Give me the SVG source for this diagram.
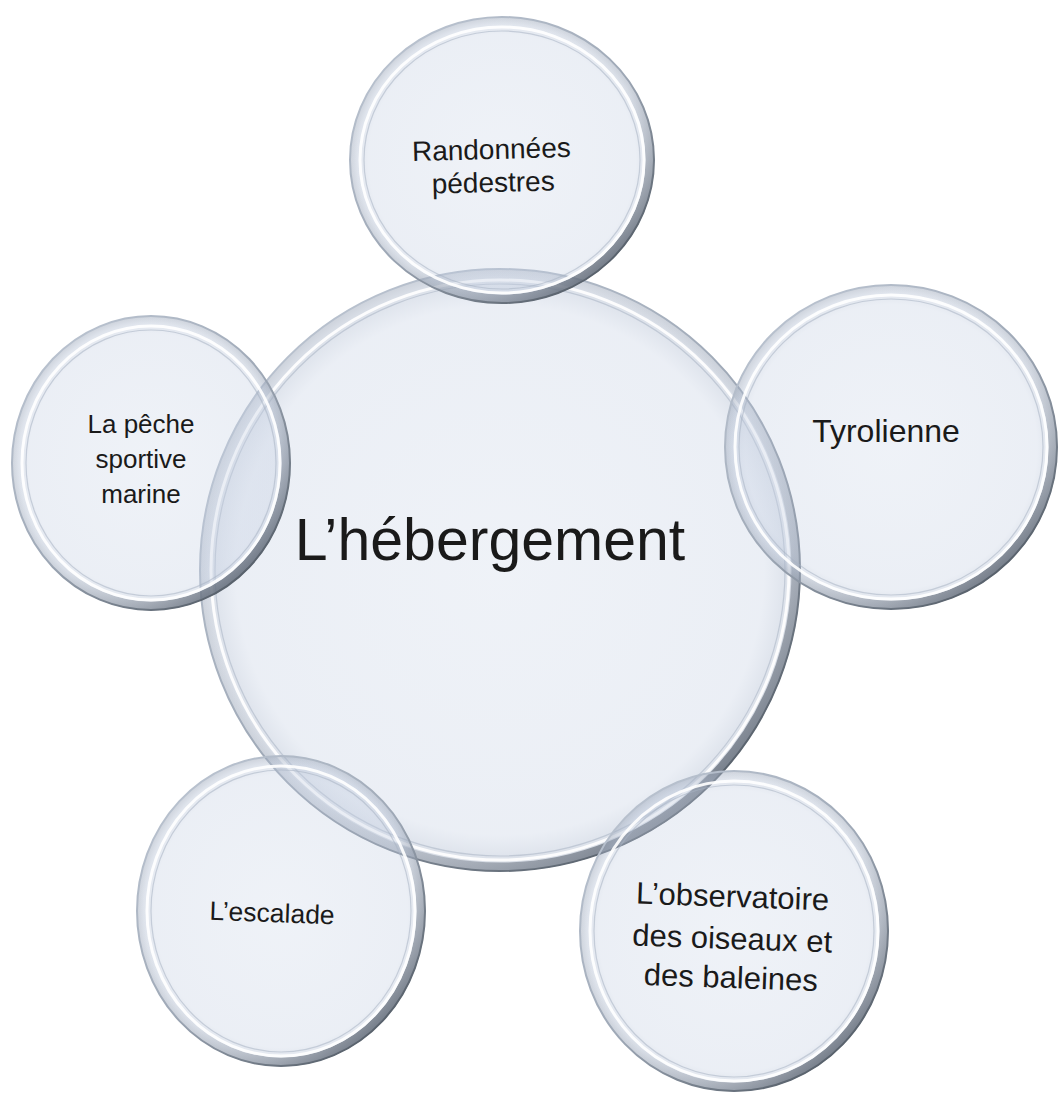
<svg xmlns="http://www.w3.org/2000/svg" width="1058" height="1096" viewBox="0 0 1058 1096">
  <defs>
    <radialGradient id="bubbleFill" cx="0.5" cy="0.5" r="0.5">
      <stop offset="0" stop-color="#c9d4e6" stop-opacity="0.3"/>
      <stop offset="0.88" stop-color="#c4cfe2" stop-opacity="0.34"/>
      <stop offset="0.95" stop-color="#b3bfd3" stop-opacity="0.42"/>
      <stop offset="1" stop-color="#9aa5b7" stop-opacity="0.5"/>
    </radialGradient>
    <linearGradient id="rim" x1="0.15" y1="0.1" x2="0.85" y2="0.95">
      <stop offset="0" stop-color="#b9c2cf"/>
      <stop offset="0.5" stop-color="#9ea8b6"/>
      <stop offset="1" stop-color="#4f5862"/>
    </linearGradient>
    <linearGradient id="shade" x1="0.2" y1="0.1" x2="0.9" y2="0.9">
      <stop offset="0" stop-color="#ffffff" stop-opacity="0"/>
      <stop offset="0.55" stop-color="#9aa3b0" stop-opacity="0.1"/>
      <stop offset="1" stop-color="#4e5764" stop-opacity="0.8"/>
    </linearGradient>
  </defs>
  <style>
    .fill { fill: url(#bubbleFill); }
    .shade { fill: none; stroke: url(#shade); stroke-width: 9; }
    .rim { fill: none; stroke: url(#rim); stroke-width: 2; }
    .hl { fill: none; stroke: #ffffff; stroke-opacity: 0.9; stroke-width: 3; }
    .inner { fill: none; stroke: #a7b2c2; stroke-opacity: 0.55; stroke-width: 1.2; }
    .lbl { font-family: "Liberation Sans", Arial, sans-serif; fill: #1a1a1a; text-anchor: middle; }
  </style>
  <rect width="1058" height="1096" fill="#ffffff"/>

  <g id="connectors"></g>

  <g id="node-center">
    <ellipse class="fill" cx="500" cy="570" rx="300" ry="301"/>
    <ellipse class="shade" cx="500" cy="570" rx="296" ry="297"/>
    <ellipse class="rim" cx="500" cy="570" rx="300" ry="301"/>
    <ellipse class="hl" cx="500" cy="570" rx="289" ry="290"/>
    <ellipse class="inner" cx="500" cy="570" rx="285" ry="286"/>
    <text class="lbl" x="490" y="560" font-size="59">L’hébergement</text>
  </g>

  <g id="node-randonnees">
    <ellipse class="fill" cx="502" cy="160" rx="152" ry="143"/>
    <ellipse class="shade" cx="502" cy="160" rx="148" ry="139"/>
    <ellipse class="rim" cx="502" cy="160" rx="152" ry="143"/>
    <ellipse class="hl" cx="502" cy="160" rx="142" ry="133"/>
    <ellipse class="inner" cx="502" cy="160" rx="138" ry="129"/>
    <g transform="rotate(-1.5 492 175)">
      <text class="lbl" x="492" y="159" font-size="28">Randonnées</text>
      <text class="lbl" x="493" y="192" font-size="28">pédestres</text>
    </g>
  </g>

  <g id="node-peche">
    <ellipse class="fill" cx="151" cy="463" rx="139" ry="147"/>
    <ellipse class="shade" cx="151" cy="463" rx="135" ry="143"/>
    <ellipse class="rim" cx="151" cy="463" rx="139" ry="147"/>
    <ellipse class="hl" cx="151" cy="463" rx="129" ry="137"/>
    <ellipse class="inner" cx="151" cy="463" rx="125" ry="133"/>
    <text class="lbl" x="141" y="433" font-size="26">La pêche</text>
    <text class="lbl" x="141" y="468" font-size="26">sportive</text>
    <text class="lbl" x="141" y="503" font-size="26">marine</text>
  </g>

  <g id="node-tyrolienne">
    <ellipse class="fill" cx="891" cy="447" rx="166" ry="162"/>
    <ellipse class="shade" cx="891" cy="447" rx="162" ry="158"/>
    <ellipse class="rim" cx="891" cy="447" rx="166" ry="162"/>
    <ellipse class="hl" cx="891" cy="447" rx="156" ry="152"/>
    <ellipse class="inner" cx="891" cy="447" rx="152" ry="148"/>
    <text class="lbl" x="886" y="442" font-size="32">Tyrolienne</text>
  </g>

  <g id="node-escalade">
    <ellipse class="fill" cx="281" cy="911" rx="144" ry="155"/>
    <ellipse class="shade" cx="281" cy="911" rx="140" ry="151"/>
    <ellipse class="rim" cx="281" cy="911" rx="144" ry="155"/>
    <ellipse class="hl" cx="281" cy="911" rx="134" ry="145"/>
    <ellipse class="inner" cx="281" cy="911" rx="130" ry="141"/>
    <text class="lbl" x="272" y="922" font-size="26.5" transform="rotate(2 272 915)">L’escalade</text>
  </g>

  <g id="node-observatoire">
    <ellipse class="fill" cx="734" cy="931" rx="154" ry="160"/>
    <ellipse class="shade" cx="734" cy="931" rx="150" ry="156"/>
    <ellipse class="rim" cx="734" cy="931" rx="154" ry="160"/>
    <ellipse class="hl" cx="734" cy="931" rx="144" ry="150"/>
    <ellipse class="inner" cx="734" cy="931" rx="140" ry="146"/>
    <g transform="rotate(2 732 945)">
      <text class="lbl" x="731" y="907" font-size="31">L’observatoire</text>
      <text class="lbl" x="732" y="949" font-size="31">des oiseaux et</text>
      <text class="lbl" x="732" y="988" font-size="31">des baleines</text>
    </g>
  </g>
</svg>
